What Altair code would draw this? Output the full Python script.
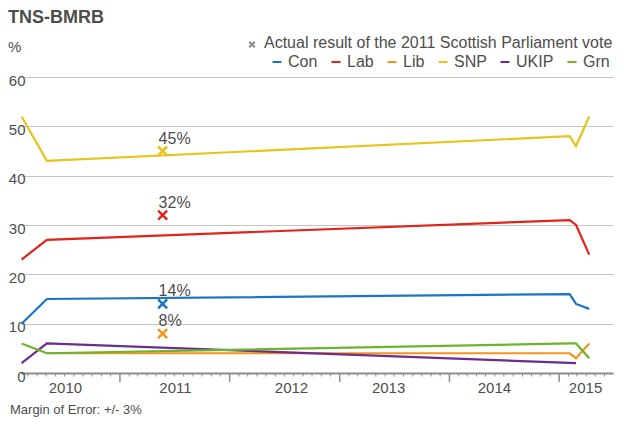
import altair as alt
import pandas as pd

FONT = "Liberation Sans, Arial, sans-serif"
TXT = "#4d4d4d"

# ---- data ----
poll_dates = ["2010-02-08", "2010-05-03", "2015-02-05", "2015-02-26", "2015-04-11"]
parties = ["Con", "Lab", "Lib", "SNP", "UKIP", "Grn"]
colours = ["#1a75c7", "#e2231a", "#f7941d", "#e8c31a", "#6b2d8e", "#6cb42c"]
con = [10, 15, 16, 14, 13]
lab = [23, 27, 31, 30, 24]
lib = [None, 4, 4, 3, 6]
snp = [52, 43, 48, 46, 52]
ukip = [2, 6, None, 2, None]
grn = [6, 4, 6, 6, 3]

result_date = "2011-05-23"
result_parties = ["SNP", "Lab", "Con", "Lib"]
result_values = [45, 32, 14, 8]

x_domain = ["2010-02-06", "2015-06-29"]
year_label_dates = ["2010-07-02", "2011-07-03", "2012-07-23", "2013-06-11", "2014-05-29", "2015-03-28"]
y_ticks = [0, 10, 20, 30, 40, 50, 60]

title_text = "TNS-BMRB"
unit_text = "%"
result_legend_text = "Actual result of the 2011 Scottish Parliament vote"
footer_text = "Margin of Error: +/- 3%"

# ---- tables ----
series = {"Con": con, "Lab": lab, "Lib": lib, "SNP": snp, "UKIP": ukip, "Grn": grn}
rows = []
for p in parties:
    for d, v in zip(poll_dates, series[p]):
        if v is not None:
            rows.append({"date": d, "party": p, "value": v})
lines_df = pd.DataFrame(rows)

res_df = pd.DataFrame({
    "date": [result_date] * len(result_parties),
    "party": result_parties,
    "value": result_values,
    "label": [f"{v}%" for v in result_values],
})

months = pd.date_range("2010-03-01", "2015-06-01", freq="MS")
ticks_df = pd.DataFrame({"date": months.strftime("%Y-%m-%d"), "major": months.month == 1})
minor_df = ticks_df[~ticks_df["major"]]
major_df = ticks_df[ticks_df["major"]]


def dt(s):
    t = pd.Timestamp(s)
    return alt.DateTime(year=t.year, month=t.month, date=t.day)


W, H = 586, 296
X_START = -6  # x scale starts a little left of the gridlines, as in the original

x_enc = alt.X(
    "date:T",
    scale=alt.Scale(domain=[dt(s) for s in x_domain], range=[X_START, W]),
    axis=alt.Axis(
        values=[dt(s) for s in year_label_dates],
        format="%Y",
        title=None,
        grid=False,
        ticks=False,
        tickSize=0,
        labelPadding=7,
        labelFlush=False,
        labelOverlap=False,
        labelBound=False,
        labelFontSize=15,
        labelFont=FONT,
        labelColor=TXT,
        domainColor="#8c8c8c",
        domainWidth=2,
    ),
)

y_enc = alt.Y(
    "value:Q",
    scale=alt.Scale(domain=[0, 60], nice=False),
    axis=alt.Axis(
        values=y_ticks,
        title=None,
        grid=True,
        gridColor="#c4c4c4",
        gridWidth=1,
        domain=False,
        ticks=False,
        labelPadding=2,
        labelOffset=3,
        labelFontSize=15,
        labelFont=FONT,
        labelColor=TXT,
    ),
)

legend = alt.Legend(
    orient="none",
    legendX=242,
    legendY=-23,
    direction="horizontal",
    gridAlign="each",
    title=None,
    symbolType="stroke",
    symbolSize=81,
    symbolStrokeWidth=2,
    labelFontSize=16,
    labelFont=FONT,
    labelColor=TXT,
    labelOffset=3,
    columnPadding=9,
    padding=0,
)
color_enc = alt.Color("party:N", scale=alt.Scale(domain=parties, range=colours), legend=legend)

minor_ticks = alt.Chart(minor_df).mark_rule(color="#8c8c8c", strokeWidth=1).encode(
    x=x_enc, y=alt.value(H), y2=alt.value(H + 3.5)
)
major_ticks = alt.Chart(major_df).mark_rule(color="#8c8c8c", strokeWidth=1.5).encode(
    x=x_enc, y=alt.value(H), y2=alt.value(H + 9)
)

lines = alt.Chart(lines_df).mark_line(strokeWidth=2.2).encode(
    x=x_enc, y=y_enc, color=color_enc
)

xshape = "M-1,-1L1,1M1,-1L-1,1"
markers = alt.Chart(res_df).mark_point(
    shape=xshape, filled=False, strokeWidth=2.5, size=81, opacity=1
).encode(x=x_enc, y=y_enc, color=color_enc)

labels = alt.Chart(res_df).mark_text(
    align="left", baseline="alphabetic", dx=-4, dy=-7.5, fontSize=16, font=FONT, color=TXT
).encode(x=x_enc, y=y_enc, text="label:N")

def text_layer(txt, x, y, size, weight="normal", baseline="middle", align="left"):
    return alt.Chart(pd.DataFrame({"t": [txt]})).mark_text(
        align=align, baseline=baseline, fontSize=size, fontWeight=weight, font=FONT, color=TXT
    ).encode(x=alt.value(x), y=alt.value(y), text="t:N")

title = text_layer(title_text, -19, -68, 18, weight="bold", baseline="top")
unit = text_layer(unit_text, -19, -30, 15)
res_text = text_layer(result_legend_text, 237, -34, 16)
footer = text_layer(footer_text, -17, 337, 13, baseline="alphabetic")

res_symbol = alt.Chart(pd.DataFrame({"t": [result_legend_text]})).mark_point(
    shape=xshape, filled=False, strokeWidth=2, size=30, color="#8c8c8c", opacity=1
).encode(x=alt.value(225), y=alt.value(-32.5))

chart = alt.layer(
    minor_ticks, major_ticks, lines, markers, labels,
    title, unit, res_symbol, res_text, footer,
).properties(
    width=W,
    height=H,
    padding={"left": 19, "top": 69, "right": 3, "bottom": 45},
    autosize=alt.AutoSizeParams(type="none"),
    background="white",
).configure_view(stroke=None)

chart.save("out.html", embed_options={"renderer": "svg", "actions": False})
